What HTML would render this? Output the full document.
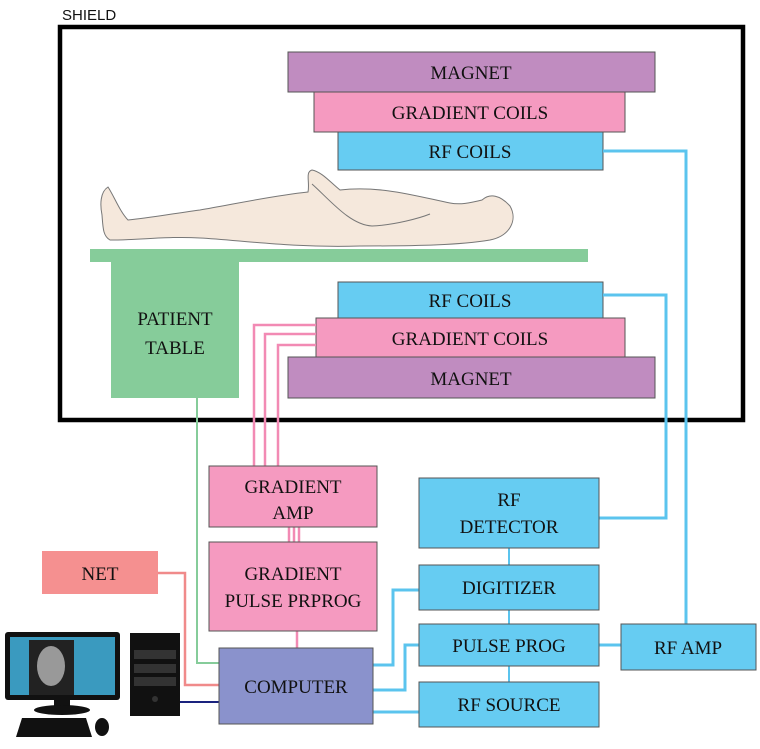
<!DOCTYPE html>
<html><head><meta charset="utf-8"><style>
body{margin:0;background:#fff;}
svg text{font-family:"Liberation Serif",serif;font-size:19px;fill:#111;text-anchor:middle;}
</style></head><body>
<svg width="760" height="744" viewBox="0 0 760 744" xmlns="http://www.w3.org/2000/svg">
<text x="62" y="20" style="text-anchor:start;font-family:'Liberation Sans',sans-serif;font-size:15px">SHIELD</text>
<rect x="60" y="27" width="683" height="393" fill="none" stroke="#000" stroke-width="4.5"/>
<g stroke="#555" stroke-width="1">
<rect x="288" y="52" width="367" height="40" fill="#c08cc0"/>
<rect x="314" y="92" width="311" height="40" fill="#f59ac0"/>
<rect x="338" y="132" width="265" height="38" fill="#66ccf2"/>
<rect x="338" y="282" width="265" height="36" fill="#66ccf2"/>
<rect x="316" y="318" width="309" height="39" fill="#f59ac0"/>
<rect x="288" y="357" width="367" height="41" fill="#c08cc0"/>
</g>
<text x="471" y="79">MAGNET</text>
<text x="470" y="119">GRADIENT COILS</text>
<text x="470" y="158">RF COILS</text>
<text x="470" y="307">RF COILS</text>
<text x="470" y="345">GRADIENT COILS</text>
<text x="471" y="385">MAGNET</text>
<!-- body -->
<path d="M108,187 C100,192 100,205 102,215 C103,228 103,236 110,240 C140,240 170,236 200,238 C240,240 290,248 360,246 C420,246 460,245 490,240 C510,236 518,220 510,206 C500,195 490,193 482,200 C470,203 460,205 450,203 C420,197 380,185 340,190 C330,182 322,172 312,170 C305,172 310,182 308,192 C270,196 230,205 200,210 C170,214 150,218 128,220 C120,212 114,196 108,187 Z" fill="#f5e8dc" stroke="#777" stroke-width="1"/>
<path d="M312,184 C330,200 350,225 372,226 C395,225 420,218 430,214" fill="none" stroke="#777" stroke-width="1"/>
<rect x="90" y="249" width="498" height="13" fill="#86cc9a"/>
<rect x="111" y="262" width="128" height="136" fill="#86cc9a"/>
<text x="175" y="325">PATIENT</text>
<text x="175" y="354">TABLE</text>
<!-- lines -->
<g fill="none" stroke="#f28ab4" stroke-width="2.5">
<path d="M254,466 V325 H316 M265,466 V334 H316 M278,466 V345 H316"/>
<path d="M289,527 V542 M294,527 V542 M299,527 V542 M297,631 V648"/>
</g>
<path d="M197,398 V663 H219" fill="none" stroke="#86cc9a" stroke-width="2"/>
<path d="M158,573 H185 V685 H219" fill="none" stroke="#f08a8a" stroke-width="2.5"/>
<path d="M176,702 H219" stroke="#1a237e" stroke-width="2"/>
<g fill="none" stroke="#5bc4ee" stroke-width="3">
<path d="M603,151 H686 V624"/>
<path d="M603,295 H666 V518 H599"/>
<path d="M373,665 H393 V590 H419"/>
<path d="M373,690 H405 V645 H419"/>
<path d="M373,712 H419"/>
<path d="M599,645 H621"/>
<path d="M509,548 V565 M509,610 V624 M509,666 V682" stroke-width="2"/>
</g>
<g stroke="#555" stroke-width="1">
<rect x="209" y="466" width="168" height="61" fill="#f59ac0"/>
<rect x="209" y="542" width="168" height="89" fill="#f59ac0"/>
<rect x="419" y="478" width="180" height="70" fill="#66ccf2"/>
<rect x="419" y="565" width="180" height="45" fill="#66ccf2"/>
<rect x="419" y="624" width="180" height="42" fill="#66ccf2"/>
<rect x="419" y="682" width="180" height="45" fill="#66ccf2"/>
<rect x="621" y="624" width="135" height="46" fill="#66ccf2"/>
<rect x="42" y="551" width="116" height="43" fill="#f59090" stroke="none"/>
<rect x="219" y="648" width="154" height="76" fill="#8a92cc"/>
</g>
<text x="293" y="493">GRADIENT</text>
<text x="293" y="519">AMP</text>
<text x="293" y="580">GRADIENT</text>
<text x="293" y="607">PULSE PRPROG</text>
<text x="509" y="506">RF</text>
<text x="509" y="533">DETECTOR</text>
<text x="509" y="594">DIGITIZER</text>
<text x="509" y="652">PULSE PROG</text>
<text x="509" y="711">RF SOURCE</text>
<text x="688" y="654">RF AMP</text>
<text x="100" y="580">NET</text>
<text x="296" y="693">COMPUTER</text>
<!-- computer icon -->
<rect x="5" y="632" width="115" height="68" rx="3" fill="#111"/>
<rect x="10" y="637" width="105" height="58" fill="#3a9abf"/>
<rect x="29" y="640" width="45" height="55" fill="#222"/>
<ellipse cx="51" cy="666" rx="14" ry="20" fill="#999"/>
<rect x="54" y="700" width="16" height="8" fill="#111"/>
<ellipse cx="62" cy="710" rx="28" ry="5" fill="#111"/>
<path d="M22,718 H86 L92,737 H16 Z" fill="#111"/>
<ellipse cx="102" cy="727" rx="7" ry="9" fill="#111"/>
<rect x="130" y="633" width="50" height="83" fill="#111"/>
<rect x="134" y="650" width="42" height="9" fill="#333"/>
<rect x="134" y="664" width="42" height="9" fill="#333"/>
<rect x="134" y="677" width="42" height="9" fill="#333"/>
<circle cx="155" cy="699" r="3" fill="#333"/>
</svg>
</body></html>
